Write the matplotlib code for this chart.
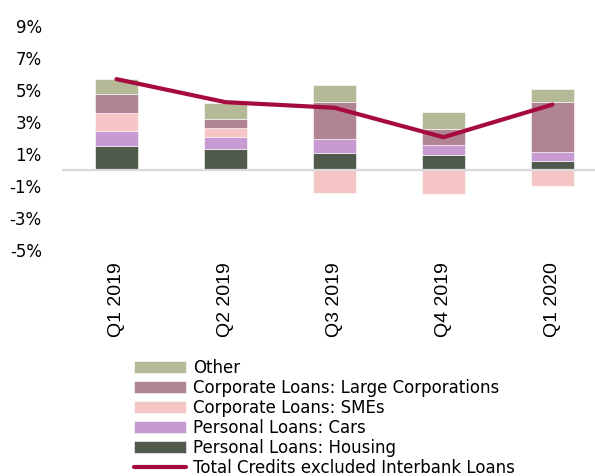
import numpy as np
import matplotlib
matplotlib.use("Agg")
import matplotlib.pyplot as plt

quarters = ["Q1 2019", "Q2 2019", "Q3 2019", "Q4 2019", "Q1 2020"]
housing = [1.53, 1.30, 1.09, 0.91, 0.59]
cars = [0.89, 0.79, 0.86, 0.67, 0.52]
smes = [1.13, 0.56, -1.45, -1.53, -0.99]
large_corps = [1.19, 0.56, 2.29, 0.96, 3.13]
other = [0.92, 0.96, 1.06, 1.06, 0.85]
total = [5.68, 4.24, 3.89, 2.05, 4.09]

y_ticks = [-5, -3, -1, 1, 3, 5, 7, 9]
y_tick_labels = ["-5%", "-3%", "-1%", "1%", "3%", "5%", "7%", "9%"]

series = [
    ("Personal Loans: Housing", housing, "#4F594C"),
    ("Personal Loans: Cars", cars, "#C89AD3"),
    ("Corporate Loans: SMEs", smes, "#F6C6C6"),
    ("Corporate Loans: Large Corporations", large_corps, "#B08495"),
    ("Other", other, "#B5B998"),
]

fig = plt.figure(figsize=(5.95, 4.76), dpi=100)
ax = fig.add_axes([62 / 595, 1 - 250 / 476, 1 - 62 / 595, 224 / 476])

x = np.arange(len(quarters))
pos_bottom = np.zeros(len(quarters))
neg_bottom = np.zeros(len(quarters))
handles = {}
for name, vals, color in series:
    vals = np.array(vals)
    bottom = np.where(vals >= 0, pos_bottom, neg_bottom)
    bars = ax.bar(x, vals, width=0.395, bottom=bottom, color=color,
                  edgecolor="#FFFFFF", linewidth=0.4, zorder=2)
    handles[name] = bars
    pos_bottom += np.where(vals >= 0, vals, 0)
    neg_bottom += np.where(vals < 0, vals, 0)

ax.axhline(0, color="#D9D9D9", lw=1.6, zorder=2.5)
line, = ax.plot(x, total, color="#A50B3C", lw=3, zorder=3,
                solid_capstyle="round", label="Total Credits excluded Interbank Loans")

ax.set_xlim(-0.5, 4.39)
ax.set_ylim(-5, 9)
ax.set_yticks(y_ticks)
ax.set_yticklabels(y_tick_labels, fontsize=12, family="DejaVu Sans")
ax.set_xticks(x)
ax.set_xticklabels(quarters, rotation=90, fontsize=14, family="Liberation Sans")
ax.tick_params(axis="y", length=0, pad=14.5)
ax.tick_params(axis="x", length=0, pad=9)
for s in ax.spines.values():
    s.set_visible(False)

order = ["Other", "Corporate Loans: Large Corporations", "Corporate Loans: SMEs",
         "Personal Loans: Cars", "Personal Loans: Housing"]
leg_handles = [handles[n] for n in order] + [line]
leg_labels = order + ["Total Credits excluded Interbank Loans"]
fig.legend(leg_handles, leg_labels, loc="upper left",
           bbox_to_anchor=(134 / 595, 1 - 359 / 476), frameon=False,
           prop={"family": "DejaVu Sans", "size": 12}, borderpad=0,
           borderaxespad=0, handlelength=3.1, handleheight=0.7,
           handletextpad=0.42, labelspacing=0.12)

plt.savefig("out.png", dpi=100)
